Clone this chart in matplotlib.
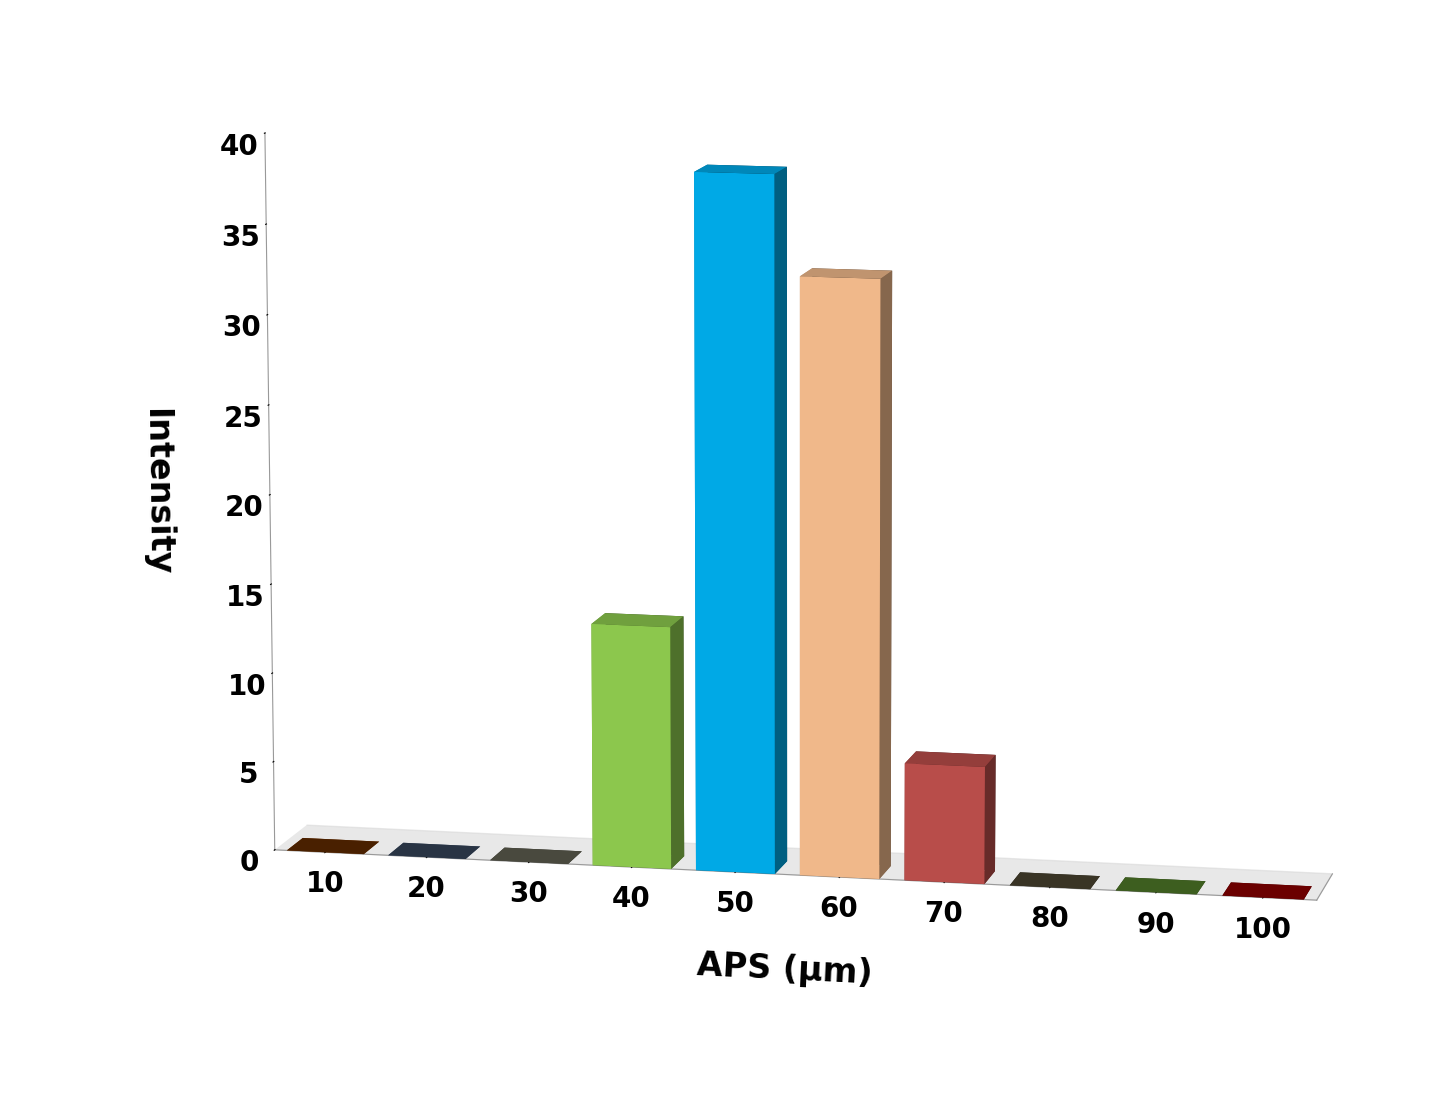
import matplotlib.pyplot as plt
import numpy as np
from matplotlib.colors import LightSource

sizes = [10, 20, 30, 40, 50, 60, 70, 80, 90, 100]
intensity = [0, 0, 0, 13.5, 38.5, 33, 6.5, 0, 0, 0]
colors = ['#8a3d00', '#4e6381', '#5f5f50', '#92d050', '#00b0f0',
          '#fac090', '#c0504d', '#4a4330', '#4f7a28', '#8b0000']

plt.rcParams['font.family'] = ['DejaVu Sans']
plt.rcParams['font.weight'] = 'bold'

fig = plt.figure(figsize=(14.49, 10.97), dpi=100)
ax = fig.add_axes([-0.02, -0.05, 1.12, 1.15], projection='3d')

ls = LightSource(azdeg=200, altdeg=20)
xs = np.arange(len(sizes))
for i, (v, c) in enumerate(zip(intensity, colors)):
    ax.bar3d(xs[i] - 0.38, 0.0, 0, 0.76, 0.5, v, color=c, shade=True,
             lightsource=ls, edgecolor='none')

ax.set_xlim(-0.5, len(sizes) - 0.5)
ax.set_ylim(0, 1)
ax.set_zlim(0, 40)
ax.set_box_aspect((3.2, 0.35, 2.2))
ax.view_init(elev=10, azim=-78)

ax.set_xticks(xs)
ax.set_xticklabels([str(s) for s in sizes], fontsize=20, fontweight='bold')
ax.set_yticks([])
ax.set_zticks(range(0, 41, 5))
ax.set_zticklabels([str(t) for t in range(0, 41, 5)], fontsize=20, fontweight='bold')
ax.zaxis.set_ticks_position('lower')
ax.zaxis.set_label_position('lower')
ax.set_xlabel('APS (µm)', fontsize=24, fontweight='bold', labelpad=40)
ax.set_zlabel('Intensity', fontsize=24, fontweight='bold', labelpad=30)

ax.xaxis.set_pane_color((1, 1, 1, 0))
ax.yaxis.set_pane_color((1, 1, 1, 0))
ax.zaxis.set_pane_color((0.85, 0.85, 0.85, 0.6))
ax.grid(False)
for a in (ax.xaxis, ax.yaxis, ax.zaxis):
    a.line.set_color('#999999')

fig.savefig('out.png', dpi=100)
